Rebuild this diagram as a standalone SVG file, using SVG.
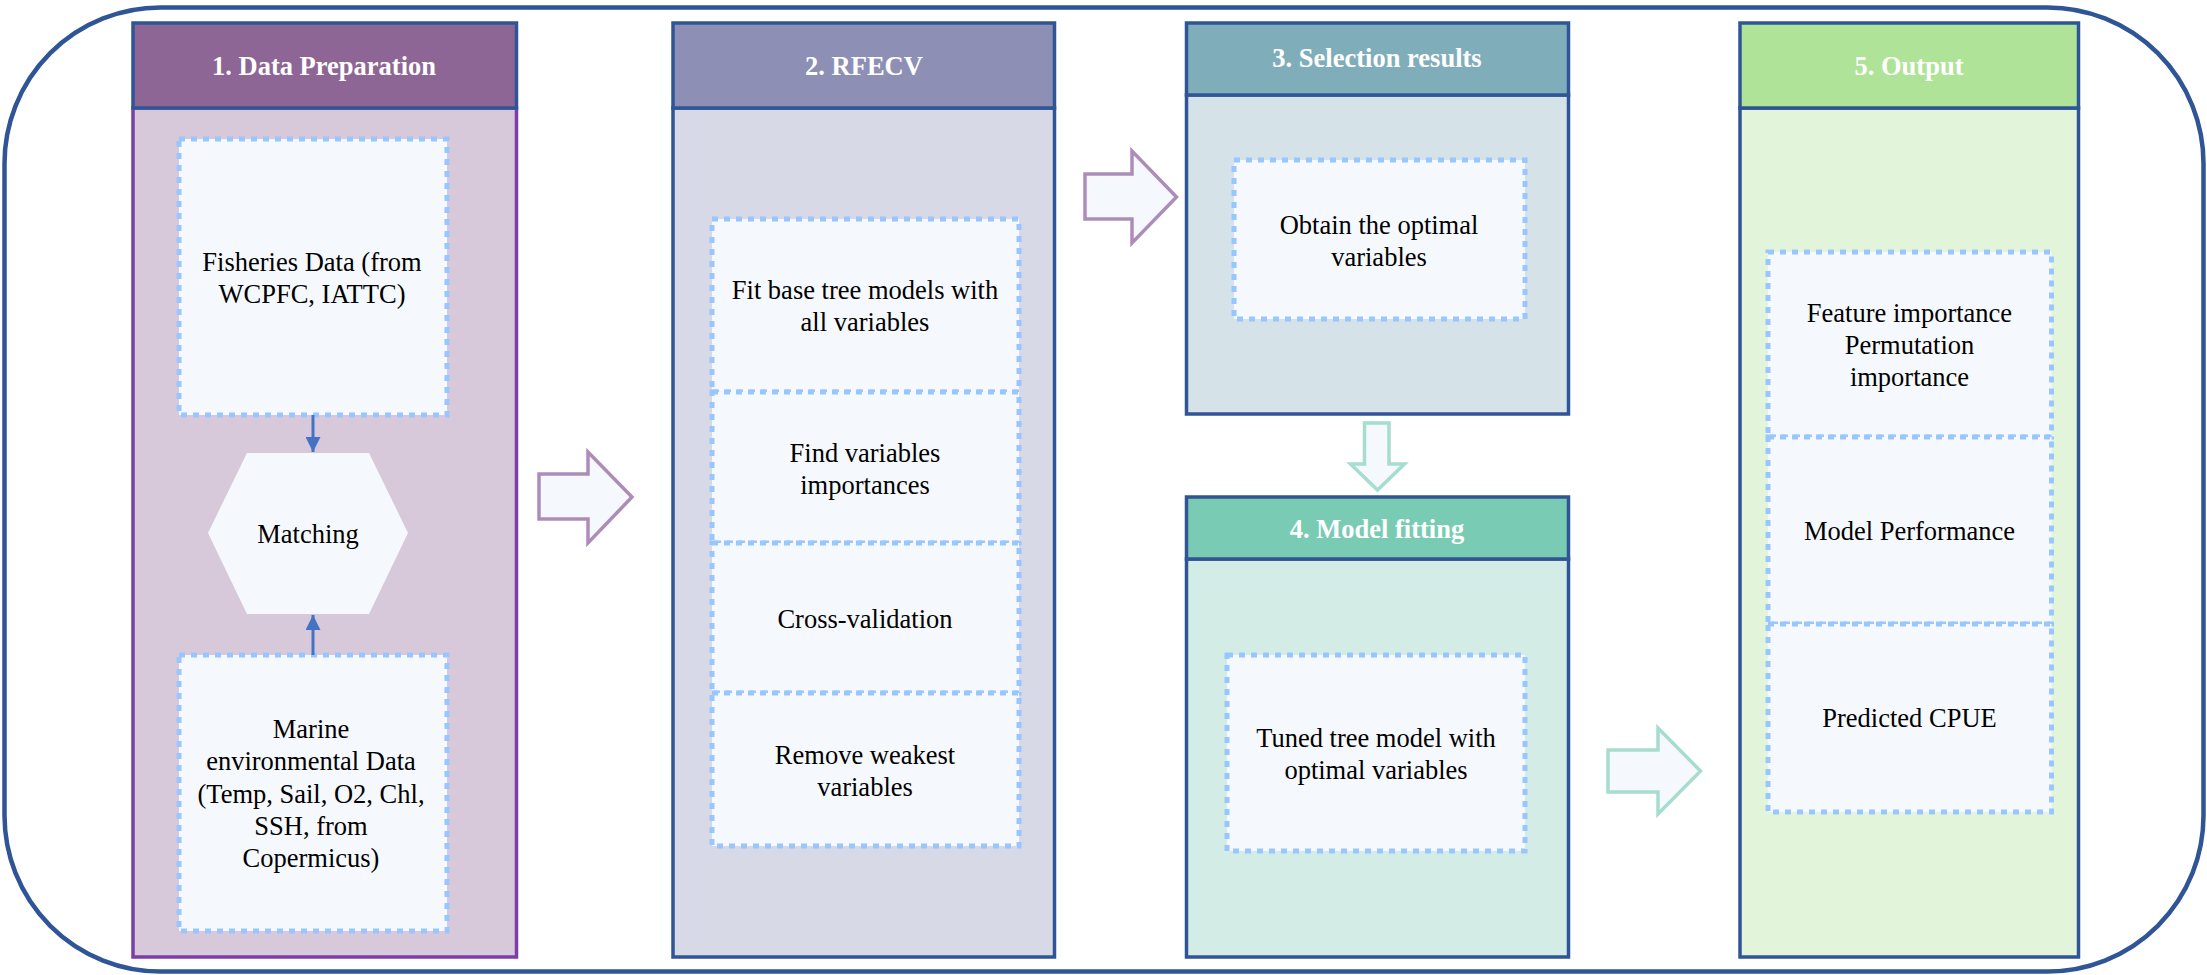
<svg xmlns="http://www.w3.org/2000/svg" width="2207" height="975" viewBox="0 0 2207 975">
<defs>
<style>
.hdr{stroke:#2F5597;stroke-width:3.5}
.body{stroke:#2F5597;stroke-width:3.5}
.box{fill:#F5F9FE;stroke:#99C6FF;stroke-width:5;stroke-dasharray:6 6}
.t{font-family:"Liberation Serif","Times New Roman",serif;font-size:26.5px;fill:#000;text-anchor:middle}
.h{font-family:"Liberation Serif","Times New Roman",serif;font-size:26.5px;font-weight:bold;fill:#fff;text-anchor:middle}
.pa{fill:#F5F9FE;stroke:#AC8DBA;stroke-width:3.5;stroke-linejoin:miter}
.ta{fill:#F5F9FE;stroke:#A6DDCE;stroke-width:3.5;stroke-linejoin:miter}
.ln{stroke:#4472C4;stroke-width:3;fill:none}
</style>
<marker id="ah" viewBox="0 0 10 10" refX="10" refY="5" markerWidth="5" markerHeight="5" orient="auto" markerUnits="strokeWidth">
<path d="M0,0 L10,5 L0,10 z" fill="#4472C4"/>
</marker>
</defs>
<rect x="0" y="0" width="2207" height="975" fill="#fff"/>
<rect id="frame" x="4.5" y="7.5" width="2199" height="964" rx="156" ry="156" fill="none" stroke="#2F5597" stroke-width="4.5"/>

<g id="panel1">
<rect x="133" y="108" width="383.5" height="849" fill="#D8C9DA" stroke="#7A3EA6" stroke-width="3.5"/>
<rect class="hdr" x="133" y="23" width="383.5" height="85" fill="#8D6695"/>
<text class="h" x="324" y="75">1. Data Preparation</text>
</g>
<g id="fisheries">
<rect class="box" x="179" y="139" width="268" height="276"/>
<text class="t" x="312" y="271">Fisheries Data (from</text>
<text class="t" x="312" y="303">WCPFC, IATTC)</text>
</g>
<g id="matching">
<polygon points="247,453 369,453 408,533 369,614 247,614 208,533" fill="#F5F9FE"/>
<text class="t" x="308" y="543">Matching</text>
</g>
<g id="marine">
<rect class="box" x="179" y="655" width="268" height="276"/>
<text class="t" x="311" y="738">Marine</text>
<text class="t" x="311" y="770">environmental Data</text>
<text class="t" x="311" y="803">(Temp, Sail, O2, Chl,</text>
<text class="t" x="311" y="835">SSH, from</text>
<text class="t" x="311" y="867">Copermicus)</text>
</g>

<g id="panel2">
<rect class="body" x="673" y="108" width="381.5" height="849" fill="#D7D9E6"/>
<rect class="hdr" x="673" y="23" width="381.5" height="85" fill="#8D8FB5"/>
<text class="h" x="864" y="75">2. RFECV</text>
</g>
<g id="fit">
<rect class="box" x="712" y="219" width="307" height="173"/>
<text class="t" x="865" y="299">Fit base tree models with</text>
<text class="t" x="865" y="331">all variables</text>
</g>
<g id="find">
<rect class="box" x="712" y="392" width="307" height="151"/>
<text class="t" x="865" y="462">Find variables</text>
<text class="t" x="865" y="494">importances</text>
</g>
<g id="cv">
<rect class="box" x="712" y="543" width="307" height="150"/>
<text class="t" x="865" y="628">Cross-validation</text>
</g>
<g id="remove">
<rect class="box" x="712" y="693" width="307" height="153"/>
<text class="t" x="865" y="764">Remove weakest</text>
<text class="t" x="865" y="796">variables</text>
</g>

<g id="panel3">
<rect class="body" x="1186.5" y="95" width="382" height="319" fill="#D5E3E9"/>
<rect class="hdr" x="1186.5" y="23" width="382" height="72" fill="#7FAEBA"/>
<text class="h" x="1377" y="67">3. Selection results</text>
</g>
<g id="obtain">
<rect class="box" x="1234" y="160" width="291" height="159"/>
<text class="t" x="1379" y="234">Obtain the optimal</text>
<text class="t" x="1379" y="266">variables</text>
</g>

<g id="panel4">
<rect class="body" x="1186.5" y="559" width="382" height="398" fill="#D3EDE6"/>
<rect class="hdr" x="1186.5" y="497" width="382" height="62" fill="#7ACBB4"/>
<text class="h" x="1377" y="538">4. Model fitting</text>
</g>
<g id="tuned">
<rect class="box" x="1227" y="655" width="298" height="196"/>
<text class="t" x="1376" y="747">Tuned tree model with</text>
<text class="t" x="1376" y="779">optimal variables</text>
</g>

<g id="panel5">
<rect class="body" x="1740" y="108" width="338.5" height="849" fill="#E2F5DA"/>
<rect class="hdr" x="1740" y="23" width="338.5" height="85" fill="#AFE397"/>
<text class="h" x="1909" y="75">5. Output</text>
</g>
<g id="feature">
<rect class="box" x="1768" y="252" width="283.5" height="185"/>
<text class="t" x="1909.5" y="322">Feature importance</text>
<text class="t" x="1909.5" y="354">Permutation</text>
<text class="t" x="1909.5" y="386">importance</text>
</g>
<g id="performance">
<rect class="box" x="1768" y="437" width="283.5" height="187"/>
<text class="t" x="1909.5" y="540">Model Performance</text>
</g>
<g id="cpue">
<rect class="box" x="1768" y="624" width="283.5" height="188"/>
<text class="t" x="1909.5" y="727">Predicted CPUE</text>
</g>

<g id="connectors">
<line class="ln" x1="313" y1="415" x2="313" y2="452" marker-end="url(#ah)"/>
<line class="ln" x1="313" y1="655" x2="313" y2="615" marker-end="url(#ah)"/>
<polygon class="pa" points="539,474 588,474 588,452 632,497 588,543 588,519 539,519"/>
<polygon class="pa" points="1085,174 1132,174 1132,151 1176.5,197 1132,243 1132,219 1085,219"/>
<polygon class="ta" points="1364.5,423 1389,423 1389,464 1404.5,464 1377.5,490 1350.5,464 1364.5,464"/>
<polygon class="ta" points="1608,750 1658,750 1658,728 1700.5,771 1658,814 1658,792 1608,792"/>
</g>
</svg>
